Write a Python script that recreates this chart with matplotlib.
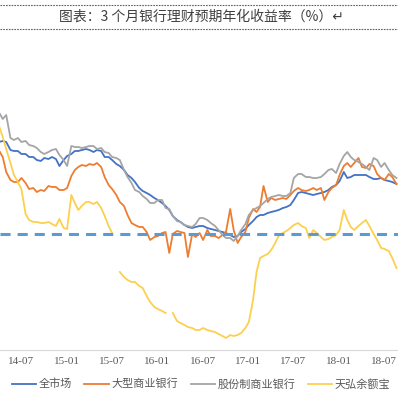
import pandas as pd
import matplotlib
matplotlib.use("Agg")
import matplotlib.pyplot as plt
from matplotlib.lines import Line2D
import numpy as np

plt.rcParams['font.family'] = ['Noto Sans CJK SC', 'DejaVu Sans']

# semi-monthly observations, 2014-04-15 .. 2018-09-01
dates = pd.date_range('2014-04-15', '2018-09-01', freq='SMS')

# 全市场
market = [5.84, 5.86, 5.84, 5.68, 5.66, 5.66, 5.60, 5.60, 5.54, 5.54,
          5.48, 5.46, 5.52, 5.50, 5.54, 5.50, 5.36, 5.48, 5.56, 5.60,
          5.66, 5.66, 5.68, 5.70, 5.68, 5.64, 5.68, 5.66, 5.54, 5.54,
          5.48, 5.40, 5.36, 5.28, 5.18, 5.12, 5.04, 4.92, 4.86, 4.82,
          4.78, 4.72, 4.68, 4.62, 4.56, 4.48, 4.36, 4.28, 4.24, 4.18,
          4.14, 4.12, 4.14, 4.16, 4.16, 4.12, 4.10, 4.08, 4.06, 4.04,
          4.02, 3.98, 3.94, 3.96, 4.04, 4.10, 4.18, 4.26, 4.34, 4.38,
          4.38, 4.42, 4.44, 4.46, 4.48, 4.52, 4.54, 4.58, 4.68, 4.82,
          4.84, 4.82, 4.80, 4.78, 4.80, 4.82, 4.84, 4.88, 4.94, 4.98,
          5.06, 5.24, 5.12, 5.14, 5.18, 5.18, 5.18, 5.18, 5.14, 5.10,
          5.10, 5.12, 5.08, 5.06, 5.04, 5.00]

# 大型商业银行
big_banks = [5.68, 5.54, 5.24, 5.08, 5.04, 5.04, 5.12, 5.02, 4.90, 4.92,
             4.84, 4.88, 4.86, 4.96, 4.94, 4.94, 4.88, 4.88, 4.92, 5.16,
             5.28, 5.34, 5.38, 5.36, 5.40, 5.38, 5.42, 5.34, 5.14, 4.98,
             4.90, 4.78, 4.64, 4.56, 4.38, 4.22, 4.18, 4.14, 4.14, 4.04,
             3.88, 3.94, 3.96, 4.02, 4.04, 3.62, 4.00, 4.06, 4.04, 4.02,
             3.54, 4.00, 3.94, 4.02, 3.88, 4.08, 3.96, 3.96, 3.92, 3.98,
             4.04, 4.50, 4.08, 3.82, 3.94, 4.04, 4.32, 4.50, 4.44, 4.54,
             4.96, 4.64, 4.72, 4.68, 4.70, 4.72, 4.70, 4.78, 4.86, 4.92,
             4.88, 4.86, 4.88, 4.92, 4.88, 4.92, 4.68, 4.84, 4.92, 4.98,
             5.18, 5.36, 5.42, 5.34, 5.42, 5.52, 5.34, 5.32, 5.40, 5.36,
             5.20, 5.12, 5.08, 5.20, 5.14, 5.00]

# 股份制商业银行
joint_banks = [6.44, 6.30, 6.38, 5.92, 5.88, 5.92, 5.84, 5.86, 5.78, 5.76,
               5.72, 5.64, 5.60, 5.64, 5.68, 5.70, 5.58, 5.48, 5.36, 5.76,
               5.74, 5.74, 5.72, 5.74, 5.76, 5.76, 5.70, 5.72, 5.64, 5.62,
               5.54, 5.52, 5.48, 5.28, 5.14, 5.02, 4.88, 4.84, 4.76, 4.70,
               4.62, 4.62, 4.68, 4.68, 4.52, 4.50, 4.36, 4.26, 4.24, 4.18,
               4.16, 4.14, 4.20, 4.32, 4.32, 4.28, 4.22, 4.16, 4.08, 3.98,
               3.92, 3.92, 3.86, 3.96, 4.08, 4.20, 4.38, 4.48, 4.52, 4.56,
               4.62, 4.70, 4.74, 4.76, 4.78, 4.76, 4.76, 4.82, 5.12, 5.20,
               5.20, 5.14, 5.14, 5.12, 5.12, 5.14, 5.20, 5.28, 5.30, 5.22,
               5.40, 5.56, 5.64, 5.54, 5.48, 5.44, 5.40, 5.34, 5.28, 5.52,
               5.48, 5.34, 5.42, 5.28, 5.18, 5.12]

# 天弘余额宝
yuebao = [6.18, 5.94, 5.70, 5.42, 5.18, 5.04, 4.90, 4.40, 4.28, 4.24,
          4.24, 4.22, 4.22, 4.24, 4.20, 4.16, 4.30, 4.12, 4.10, 4.78,
          4.62, 4.48, 4.56, 4.64, 4.64, 4.60, 4.64, 4.52, 4.36, 4.16,
          4.02, np.nan, 3.24, 3.14, 3.08, 3.04, 3.04, 2.96, 2.92, 2.76,
          2.64, 2.54, 2.50, 2.46, 2.42, np.nan, 2.42, 2.26, 2.22, 2.18,
          2.14, 2.12, 2.08, 2.08, 2.12, 2.08, 2.06, 2.04, 2.00, 1.96,
          1.92, 1.98, 1.96, 1.98, 2.02, 2.12, 2.24, 2.68, 3.24, 3.52,
          3.56, 3.60, 3.68, 3.82, 3.96, 4.02, 4.06, 4.12, 4.18, 4.22,
          4.16, 4.12, 3.92, 4.08, 4.02, 3.94, 3.88, 3.90, 3.94, 3.98,
          4.08, 4.48, 4.28, 4.14, 4.08, 4.16, 4.22, 4.28, 4.16, 4.00,
          3.88, 3.72, 3.70, 3.66, 3.52, 3.32]

ref_level = 4.0

tick_labels = ['14-07', '15-01', '15-07', '16-01', '16-07', '17-01', '17-07', '18-01', '18-07']
# label slots sit a little right of the month start, as in the source chart
tick_dates = pd.to_datetime(['20' + t + '-01' for t in tick_labels]) + pd.Timedelta(days=12)

fig = plt.figure(figsize=(3.98, 3.98), dpi=100)
ax = fig.add_axes([0, 48/398, 1, 310/398])

ax.plot(dates, market, color='#4472C4', lw=1.3, label='全市场')
ax.plot(dates, big_banks, color='#ED7D31', lw=1.3, label='大型商业银行')
ax.plot(dates, joint_banks, color='#A5A5A5', lw=1.3, label='股份制商业银行')
ax.plot(dates, yuebao, color='#FCD04E', lw=1.3, label='天弘余额宝')
ax.axhline(ref_level, color='#5B9BD5', lw=2.2, dashes=(3.3, 2.3))

ax.set_xlim(pd.Timestamp('2014-04-20'), pd.Timestamp('2018-09-07'))
ax.set_ylim(1.68, 7.88)
ax.set_xticks(tick_dates)
ax.set_xticklabels(tick_labels, family='Liberation Serif', fontsize=8, color='#595959')
ax.tick_params(axis='x', length=0, pad=5)
ax.set_yticks([])
for s in ['top', 'left', 'right']:
    ax.spines[s].set_visible(False)
ax.spines['bottom'].set_color('#D9D9D9')
ax.spines['bottom'].set_linewidth(0.8)

fig.legend(loc='center', bbox_to_anchor=(0.505, 1 - 384/398), ncol=4, frameon=False,
           handlelength=2.2, handletextpad=0.2, columnspacing=1.15, fontsize=8,
           labelcolor='#595959')

fig.text(0.505, 1 - 17/398, '图表：3 个月银行理财预期年化收益率（%）↵', ha='center', va='center',
         fontsize=10, color='#404040')
for yy in [5, 29]:
    fig.add_artist(Line2D([0, 1], [1 - yy/398, 1 - yy/398], transform=fig.transFigure,
                          color='#606060', lw=0.8, ls=(0, (1.5, 1))))

plt.savefig('out.png', dpi=100)
